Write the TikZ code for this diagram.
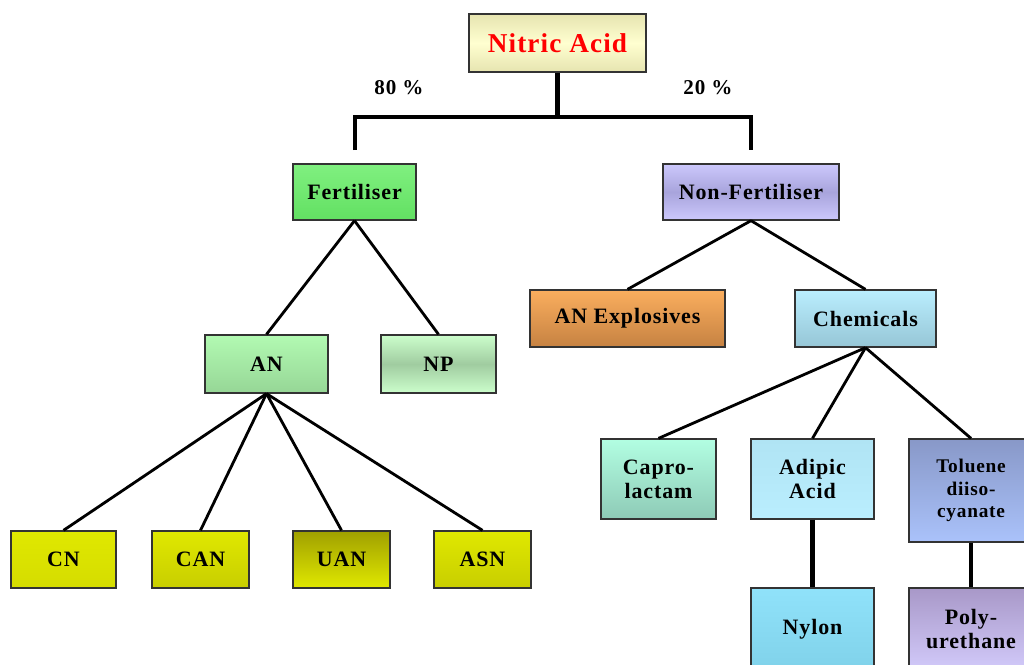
\documentclass[tikz,border=0pt]{standalone}
\usepackage{fontspec}
\setmainfont[LetterSpace=4]{Liberation Serif}
\usetikzlibrary{positioning}

\definecolor{nitrictop}{HTML}{E6E4B0}
\definecolor{nitricmid}{HTML}{FFFFD0}
\definecolor{ferttop}{HTML}{80F080}
\definecolor{fertbot}{HTML}{62E062}
\definecolor{nonftop}{HTML}{CCC8FC}
\definecolor{nonfmid}{HTML}{A8A4DC}
\definecolor{expltop}{HTML}{FAAE5E}
\definecolor{explbot}{HTML}{C68242}
\definecolor{chemtop}{HTML}{BAEEFE}
\definecolor{chembot}{HTML}{96C6D6}
\definecolor{antop}{HTML}{B2FAB2}
\definecolor{anbot}{HTML}{96D696}
\definecolor{nptop}{HTML}{CCFECC}
\definecolor{npmid}{HTML}{A0CCA0}
\definecolor{yelhi}{HTML}{E0E800}
\definecolor{yelmid}{HTML}{C8CE00}
\definecolor{yello}{HTML}{A0A000}
\definecolor{caprotop}{HTML}{B2FEE2}
\definecolor{caprobot}{HTML}{8ECAB6}
\definecolor{adiptop}{HTML}{B0E4F4}
\definecolor{adipbot}{HTML}{BAEEFE}
\definecolor{toltop}{HTML}{8898C8}
\definecolor{tolbot}{HTML}{AAC2FA}
\definecolor{nylontop}{HTML}{90E2FA}
\definecolor{nylonbot}{HTML}{80D2EA}
\definecolor{polytop}{HTML}{A898C8}
\definecolor{polybot}{HTML}{D2CAFA}

\tikzset{
  box/.style={draw=black!80, line width=0.75pt, align=center, inner sep=0pt,
              font=\bfseries\fontsize{12.5}{13.6}\selectfont},
  link/.style={draw, line width=1.6pt},
  bar/.style={draw, line width=2.4pt}
}

\begin{document}
\begin{tikzpicture}[x=0.02cm, y=-0.02cm]
\useasboundingbox (0,0) rectangle (1024,664);

\begin{scope}[every node/.style={box}]
    \node (acid) at (557.5,43) [minimum width=3.54cm, minimum height=1.16cm,
        top color=nitrictop, bottom color=nitrictop, middle color=nitricmid,
        text=red, font=\bfseries\fontsize{15.5}{18}\selectfont] {Nitric Acid};

    \node (fert) at (354.5,192) [minimum width=2.46cm, minimum height=1.12cm,
        top color=ferttop, bottom color=fertbot] {Fertiliser};
    \node (nonf) at (751,192)   [minimum width=3.52cm, minimum height=1.12cm,
        top color=nonftop, bottom color=nonftop, middle color=nonfmid] {Non-Fertiliser};

    \node (expl) at (627.5,318.5) [minimum width=3.9cm, minimum height=1.14cm,
        top color=expltop, bottom color=explbot] {AN Explosives};
    \node (chem) at (865.5,318.5) [minimum width=2.82cm, minimum height=1.14cm,
        top color=chemtop, bottom color=chembot] {Chemicals};

    \node (an) at (266.5,364) [minimum width=2.46cm, minimum height=1.16cm,
        top color=antop, bottom color=anbot] {AN};
    \node (np) at (438.5,364) [minimum width=2.3cm, minimum height=1.16cm,
        top color=nptop, bottom color=nptop, middle color=npmid] {NP};

    \node (cn)  at (63.5,559.5)  [minimum width=2.1cm, minimum height=1.14cm,
        top color=yelhi, bottom color=yelhi!95!black] {CN};
    \node (can) at (200.5,559.5) [minimum width=1.94cm, minimum height=1.14cm,
        top color=yelhi, bottom color=yelmid] {CAN};
    \node (uan) at (341.5,559.5) [minimum width=1.94cm, minimum height=1.14cm,
        top color=yello, bottom color=yelhi] {UAN};
    \node (asn) at (482.5,559.5) [minimum width=1.94cm, minimum height=1.14cm,
        top color=yelhi, bottom color=yelmid] {ASN};

    \node (capro) at (658.5,479) [minimum width=2.3cm, minimum height=1.6cm,
        top color=caprotop, bottom color=caprobot] {Capro-\\lactam};
    \node (adip)  at (812.5,479) [minimum width=2.46cm, minimum height=1.6cm,
        top color=adiptop, bottom color=adipbot] {Adipic\\Acid};
    \node (tol)   at (971,490.5) [minimum width=2.48cm, minimum height=2.06cm,
        top color=toltop, bottom color=tolbot,
        font=\bfseries\fontsize{11}{13}\selectfont] {Toluene\\diiso-\\cyanate};

    \node (nylon) at (812.5,629) [minimum width=2.46cm, minimum height=1.64cm,
        top color=nylontop, bottom color=nylonbot] {Nylon};
    \node (poly)  at (971,629)   [minimum width=2.48cm, minimum height=1.64cm,
        top color=polytop, bottom color=polybot] {Poly-\\urethane};
\end{scope}

% share labels
\node (left)  at (399,88) [font=\bfseries\fontsize{12}{14}\selectfont] {80 \%};
\node (right) at (708,88) [font=\bfseries\fontsize{12}{14}\selectfont] {20 \%};

% split bracket
\coordinate (split) at (557.5,117);
\coordinate (lend)  at (355,150);
\coordinate (rend)  at (751,150);
\draw [bar] (acid.south) -- (split);
\draw [bar] (lend) -- (lend |- split) -- (rend |- split) -- (rend);

\begin{scope}[every edge/.style={link}]
    \path (fert.south) edge (an.north)
                       edge (np.north);
    \path (nonf.south) edge (expl.north)
                       edge (chem.north);

    \path (an.south) edge (cn.north)
                     edge (can.north)
                     edge (uan.north)
                     edge (asn.north);

    \path (chem.south) edge (capro.north)
                       edge (adip.north)
                       edge (tol.north);

    \path (adip.south) edge[bar] (nylon.north);
    \path (tol.south)  edge[bar] (poly.north);
\end{scope}
\end{tikzpicture}
\end{document}
